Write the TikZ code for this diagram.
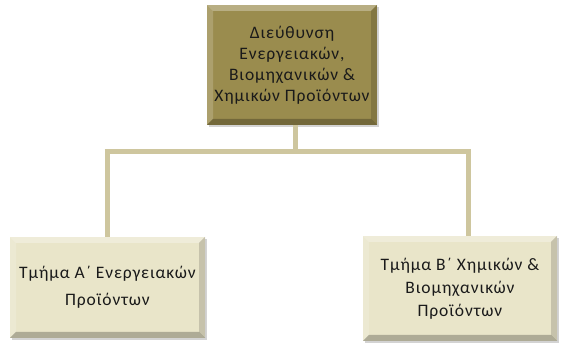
\documentclass[tikz,border=0pt]{standalone}
\usepackage{fontspec}
\setmainfont[LetterSpace=5]{Carlito}
\usetikzlibrary{shadows}
\definecolor{olivebox}{HTML}{9A8C4E}
\definecolor{creambox}{HTML}{E9E5C9}
\definecolor{linetan}{HTML}{CEC69E}
\definecolor{txt}{HTML}{1A1A1A}
\tikzset{
  bevel/.style={path picture={
    \fill[white,opacity=.30] (path picture bounding box.north west) -- (path picture bounding box.north east) -- ([xshift=-6pt,yshift=-6pt]path picture bounding box.north east) -- ([xshift=6pt,yshift=-6pt]path picture bounding box.north west) -- cycle;
    \fill[white,opacity=.18] (path picture bounding box.north west) -- ([xshift=6pt,yshift=-6pt]path picture bounding box.north west) -- ([xshift=6pt,yshift=6pt]path picture bounding box.south west) -- (path picture bounding box.south west) -- cycle;
    \fill[black,opacity=.25] (path picture bounding box.south west) -- (path picture bounding box.south east) -- ([xshift=-6pt,yshift=6pt]path picture bounding box.south east) -- ([xshift=6pt,yshift=6pt]path picture bounding box.south west) -- cycle;
    \fill[black,opacity=.15] (path picture bounding box.north east) -- ([xshift=-6pt,yshift=-6pt]path picture bounding box.north east) -- ([xshift=-6pt,yshift=6pt]path picture bounding box.south east) -- (path picture bounding box.south east) -- cycle;
  }},
  orgbox/.style={bevel, align=center, inner sep=0pt, text=txt, drop shadow={shadow xshift=2pt,shadow yshift=-2pt,opacity=.35}},
  conn/.style={draw=linetan, line width=5pt}
}
\begin{document}
\begin{tikzpicture}[x=1pt,y=1pt]
\useasboundingbox (0,0) rectangle (563,353);
\node[orgbox, fill=olivebox, minimum width=170pt, minimum height=120pt, font=\fontsize{17.5}{21}\selectfont] (top) at (292,288)
  {Διεύθυνση\\Ενεργειακών,\\Βιομηχανικών \&\\Χημικών Προϊόντων};
\node[orgbox, fill=creambox, minimum width=195pt, minimum height=101pt, font=\fontsize{17.5}{27}\selectfont] (left) at (107.5,65.5)
  {Τμήμα Α΄ Ενεργειακών\\Προϊόντων};
\node[orgbox, fill=creambox, minimum width=194pt, minimum height=105pt, font=\fontsize{17.5}{23}\selectfont] (right) at (460,64.5)
  {Τμήμα Β΄ Χημικών \&\\Βιομηχανικών\\Προϊόντων};
\coordinate (tj) at (295,201);
\coordinate (lj) at (107,201);
\coordinate (rj) at (468,201);
\draw[conn] (top.south -| tj) -- (tj);
\draw[conn] ([xshift=-2.5pt]lj) -- ([xshift=2.5pt]rj);
\draw[conn] (lj) -- (left.north -| lj);
\draw[conn] (rj) -- (right.north -| rj);
\end{tikzpicture}
\end{document}
